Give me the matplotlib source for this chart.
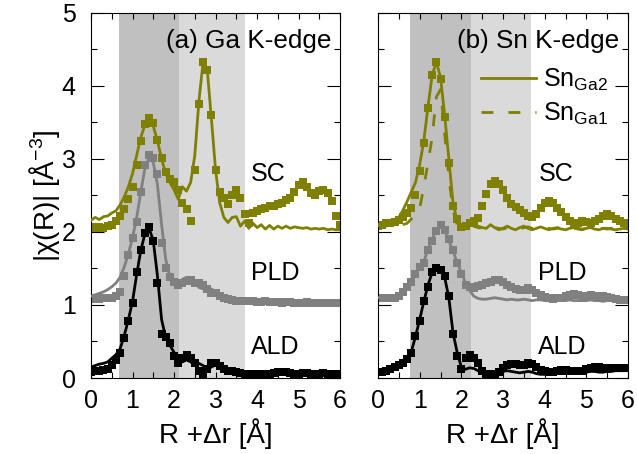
import numpy as np
import matplotlib
matplotlib.use("Agg")
import matplotlib.pyplot as plt

plt.rcParams['font.family'] = ['Liberation Sans', 'DejaVu Sans']
plt.rcParams['mathtext.fontset'] = 'custom'
plt.rcParams['mathtext.rm'] = 'Liberation Sans'
plt.rcParams['mathtext.it'] = 'Liberation Sans:italic'

# R grid of the transforms (Angstrom)
r = np.round(np.arange(0, 6.05, 0.1), 2)

# (a) Ga K-edge: squares = data, lines = model; SC offset +2, PLD +1, ALD +0
ga_sc_exp = [2.07, 2.06, 2.07, 2.05, 2.08, 2.10, 2.15, 2.22, 2.32, 2.45,
             2.62, 2.92, 3.25, 3.48, 3.56, 3.49, 3.26, 3.02, 2.82, 2.72,
             2.68, 2.57, 2.40, 2.32, 2.15, 2.85, 3.75, 4.33, 4.22, 3.60,
             2.85, 2.55, 2.47, 2.38, 2.50, 2.57, 2.47, 2.25, 2.12, 2.26,
             2.29, 2.31, 2.33, 2.35, 2.36, 2.38, 2.40, 2.44, 2.47, 2.55,
             2.64, 2.68, 2.62, 2.53, 2.50, 2.56, 2.58, 2.54, 2.42, 2.22,
             2.10]
ga_sc_fit = [2.16, 2.20, 2.17, 2.21, 2.22, 2.26, 2.29, 2.37, 2.48, 2.62,
             2.80, 3.05, 3.30, 3.47, 3.52, 3.45, 3.25, 3.00, 2.80, 2.68,
             2.58, 2.45, 2.62, 2.56, 2.68, 3.05, 3.80, 4.33, 4.22, 3.55,
             2.85, 2.40, 2.20, 2.13, 2.20, 2.21, 2.08, 2.15, 2.05, 2.12,
             2.06, 2.10, 2.04, 2.09, 2.04, 2.08, 2.05, 2.08, 2.05, 2.07,
             2.06, 2.05, 2.06, 2.04, 2.05, 2.04, 2.05, 2.03, 2.04, 2.03,
             2.03]
ga_pld_exp = [1.08, 1.09, 1.08, 1.09, 1.10, 1.10, 1.12, 1.18, 1.40, 1.68,
              1.92, 2.14, 2.55, 2.92, 3.05, 3.02, 2.80, 1.85, 1.50, 1.38,
              1.32, 1.28, 1.30, 1.33, 1.34, 1.30, 1.30, 1.27, 1.22, 1.17,
              1.16, 1.13, 1.10, 1.08, 1.07, 1.06, 1.06, 1.05, 1.05, 1.05,
              1.04, 1.04, 1.05, 1.04, 1.04, 1.04, 1.03, 1.04, 1.04, 1.03,
              1.03, 1.03, 1.04, 1.03, 1.03, 1.03, 1.03, 1.03, 1.03, 1.03,
              1.03]
ga_pld_fit = [1.12, 1.14, 1.16, 1.18, 1.21, 1.25, 1.30, 1.38, 1.52, 1.70,
              1.92, 2.20, 2.55, 2.88, 3.02, 2.95, 2.65, 2.10, 1.62, 1.40,
              1.34, 1.32, 1.35, 1.38, 1.36, 1.30, 1.24, 1.22, 1.20, 1.22,
              1.18, 1.12, 1.08, 1.06, 1.05, 1.05, 1.04, 1.05, 1.04, 1.04,
              1.03, 1.04, 1.03, 1.04, 1.03, 1.03, 1.04, 1.03, 1.03, 1.03,
              1.02, 1.03, 1.02, 1.03, 1.02, 1.02, 1.03, 1.02, 1.02, 1.02,
              1.02]
ga_ald_exp = [0.08, 0.09, 0.10, 0.11, 0.13, 0.18, 0.24, 0.34, 0.55, 0.78,
              1.03, 1.45, 1.75, 1.98, 2.07, 1.88, 1.30, 0.60, 0.56, 0.48,
              0.30, 0.20, 0.27, 0.31, 0.28, 0.20, 0.10, 0.03, 0.12, 0.20,
              0.20, 0.16, 0.12, 0.10, 0.09, 0.08, 0.07, 0.06, 0.06, 0.05,
              0.05, 0.05, 0.06, 0.06, 0.07, 0.08, 0.08, 0.08, 0.07, 0.06,
              0.06, 0.07, 0.07, 0.06, 0.06, 0.06, 0.07, 0.06, 0.06, 0.06,
              0.06]
ga_ald_fit = [0.15, 0.17, 0.19, 0.20, 0.22, 0.27, 0.32, 0.40, 0.58, 0.80,
              1.05, 1.42, 1.75, 1.98, 2.05, 1.88, 1.40, 0.80, 0.55, 0.45,
              0.35, 0.27, 0.22, 0.25, 0.22, 0.18, 0.20, 0.17, 0.12, 0.15,
              0.18, 0.14, 0.10, 0.08, 0.07, 0.06, 0.06, 0.05, 0.05, 0.05,
              0.05, 0.05, 0.05, 0.06, 0.06, 0.06, 0.07, 0.06, 0.06, 0.05,
              0.05, 0.05, 0.06, 0.05, 0.05, 0.05, 0.05, 0.05, 0.05, 0.05,
              0.05]

# (b) Sn K-edge
sn_sc_exp = [2.08, 2.10, 2.12, 2.12, 2.14, 2.17, 2.20, 2.26, 2.33, 2.50,
             2.84, 3.22, 3.70, 4.15, 4.33, 4.10, 3.58, 2.95, 2.35, 2.18,
             2.07, 2.08, 2.12, 2.15, 2.19, 2.35, 2.52, 2.66, 2.70, 2.66,
             2.58, 2.47, 2.38, 2.34, 2.30, 2.26, 2.22, 2.20, 2.25, 2.33,
             2.40, 2.43, 2.40, 2.33, 2.28, 2.20, 2.15, 2.13, 2.13, 2.15,
             2.14, 2.13, 2.15, 2.18, 2.22, 2.25, 2.22, 2.18, 2.15, 2.12,
             2.10]
sn_sc_ga2 = [2.10, 2.12, 2.09, 2.14, 2.16, 2.20, 2.30, 2.42, 2.55, 2.68,
             2.92, 3.25, 3.72, 4.15, 4.33, 4.12, 3.60, 3.00, 2.40, 2.15,
             2.06, 2.10, 2.12, 2.10, 2.08, 2.06, 2.05, 2.10, 2.06, 2.03,
             2.05, 2.08, 2.05, 2.03, 2.06, 2.08, 2.05, 2.03, 2.05, 2.07,
             2.05, 2.03, 2.05, 2.06, 2.04, 2.03, 2.05, 2.06, 2.04, 2.03,
             2.05, 2.06, 2.04, 2.03, 2.05, 2.05, 2.04, 2.03, 2.04, 2.05,
             2.04]
sn_sc_ga1 = [2.08, 2.10, 2.08, 2.10, 2.08, 2.06, 2.10, 2.12, 2.18, 2.22,
             2.32, 2.62, 2.95, 3.30, 3.85, 3.95, 3.35, 2.75, 2.30, 2.10,
             2.05, 2.08, 2.10, 2.08, 2.06, 2.05, 2.07, 2.08, 2.06, 2.05,
             2.04, 2.06, 2.07, 2.05, 2.04, 2.06, 2.07, 2.05, 2.04, 2.05,
             2.06, 2.05, 2.04, 2.05, 2.06, 2.05, 2.04, 2.05, 2.05, 2.04,
             2.05, 2.05, 2.04, 2.05, 2.05, 2.04, 2.05, 2.05, 2.04, 2.04,
             2.04]
sn_pld_exp = [1.09, 1.10, 1.09, 1.10, 1.10, 1.13, 1.18, 1.24, 1.32, 1.43,
              1.52, 1.58, 1.76, 1.88, 2.02, 2.10, 2.03, 1.90, 1.76, 1.58,
              1.42, 1.27, 1.24, 1.23, 1.26, 1.28, 1.30, 1.32, 1.34, 1.34,
              1.31, 1.27, 1.24, 1.22, 1.20, 1.21, 1.23, 1.21, 1.17, 1.14,
              1.11, 1.09, 1.08, 1.09, 1.10, 1.12, 1.14, 1.15, 1.14, 1.13,
              1.13, 1.14, 1.13, 1.12, 1.12, 1.11, 1.10, 1.08, 1.07, 1.07,
              1.07]
sn_pld_fit = [1.10, 1.11, 1.10, 1.11, 1.12, 1.14, 1.18, 1.24, 1.32, 1.43,
              1.52, 1.60, 1.76, 1.90, 2.03, 2.08, 2.02, 1.88, 1.74, 1.58,
              1.45, 1.30, 1.20, 1.12, 1.09, 1.08, 1.08, 1.09, 1.10, 1.09,
              1.08, 1.07, 1.08, 1.07, 1.07, 1.08, 1.07, 1.06, 1.07, 1.07,
              1.06, 1.07, 1.06, 1.06, 1.07, 1.06, 1.07, 1.06, 1.06, 1.06,
              1.06, 1.07, 1.06, 1.06, 1.05, 1.06, 1.06, 1.05, 1.06, 1.05,
              1.05]
sn_ald_exp = [0.08, 0.08, 0.10, 0.12, 0.15, 0.18, 0.20, 0.26, 0.34, 0.57,
              0.78, 1.05, 1.25, 1.45, 1.50, 1.48, 1.40, 1.12, 0.60, 0.30,
              0.12, 0.28, 0.32, 0.28, 0.20, 0.10, 0.06, 0.05, 0.05, 0.08,
              0.14, 0.18, 0.19, 0.19, 0.18, 0.18, 0.20, 0.19, 0.15, 0.11,
              0.09, 0.08, 0.08, 0.09, 0.11, 0.11, 0.10, 0.09, 0.09, 0.10,
              0.12, 0.14, 0.15, 0.15, 0.14, 0.13, 0.14, 0.14, 0.14, 0.14,
              0.14]
sn_ald_fit = [0.06, 0.07, 0.09, 0.11, 0.14, 0.17, 0.21, 0.27, 0.36, 0.57,
              0.80, 1.05, 1.27, 1.45, 1.50, 1.48, 1.38, 1.10, 0.62, 0.35,
              0.15, 0.12, 0.14, 0.13, 0.10, 0.07, 0.05, 0.05, 0.06, 0.07,
              0.09, 0.10, 0.09, 0.08, 0.07, 0.08, 0.09, 0.08, 0.06, 0.05,
              0.05, 0.06, 0.07, 0.07, 0.06, 0.06, 0.07, 0.08, 0.07, 0.07,
              0.08, 0.09, 0.09, 0.08, 0.08, 0.09, 0.09, 0.10, 0.10, 0.10,
              0.10]

# shaded fit windows: (dark start, dark end, light end)
ga_windows = [0.68, 2.13, 3.72]
sn_windows = [0.77, 2.22, 3.66]

sample_names = ['SC', 'PLD', 'ALD']
sample_label_y = [2.80, 1.44, 0.42]
colors = ['#808000', '#808080', '#000000']

fig = plt.figure(figsize=(6.37, 4.54), dpi=100)
ax1 = fig.add_axes([0.1429, 0.1674, 0.391, 0.804])
ax2 = fig.add_axes([0.5934, 0.1674, 0.3925, 0.804])


def draw_panel(ax, exps, fits, win, title):
    ax.axvspan(win[0], win[1], color='#c0c0c0', lw=0, zorder=0)
    ax.axvspan(win[1], win[2], color='#dadada', lw=0, zorder=0)
    for exp, fit, c in zip(exps, fits, colors):
        ax.plot(r, exp, 's', color=c, ms=5.6, mew=0, zorder=2)
        ax.plot(r, fit, '-', color=c, lw=2, zorder=3)
    for name, y in zip(sample_names, sample_label_y):
        ax.text(3.85, y, name, fontsize=18, va='center', ha='left')
    ax.text(0.965, 0.955, title, transform=ax.transAxes, fontsize=18.8,
            ha='right', va='top')
    ax.set_xlim(0, 6)
    ax.set_ylim(0, 5)
    ax.set_xticks(np.arange(0, 7, 1))
    ax.set_xticks(np.arange(0, 6.5, 0.5), minor=True)
    ax.set_yticks(np.arange(0, 6, 1))
    ax.set_yticks(np.arange(0.5, 5, 1), minor=True)
    ax.tick_params(axis='both', which='both', direction='in',
                   top=True, right=True, width=0.8, labelsize=18)
    ax.tick_params(axis='x', which='both', length=4.5, pad=8)
    ax.tick_params(axis='y', which='major', length=9.4, pad=11)
    ax.tick_params(axis='y', which='minor', length=4.5)
    for s in ax.spines.values():
        s.set_linewidth(0.8)
    ax.set_xlabel('R +Δr [Å]', fontsize=20, labelpad=4)


draw_panel(ax1, [ga_sc_exp, ga_pld_exp, ga_ald_exp],
           [ga_sc_fit, ga_pld_fit, ga_ald_fit], ga_windows, '(a) Ga K-edge')
draw_panel(ax2, [sn_sc_exp, sn_pld_exp, sn_ald_exp],
           [sn_sc_ga2, sn_pld_fit, sn_ald_fit], sn_windows, '(b) Sn K-edge')

ga2_line = ax2.lines[1]
ga1_line, = ax2.plot(r, sn_sc_ga1, color=colors[0], lw=2,
                     linestyle=(0, (4.3, 5.4)), zorder=3)
ax2.legend([ga2_line, ga1_line],
           [r'Sn$_{\mathregular{Ga2}}$', r'Sn$_{\mathregular{Ga1}}$'],
           loc='upper left', bbox_to_anchor=(0.41, 0.853), frameon=False,
           fontsize=18, handlelength=2.2, handletextpad=0.3,
           labelspacing=0.32, borderpad=0, borderaxespad=0)

ax2.tick_params(axis='y', which='both', labelleft=False)
ax1.set_ylabel('|χ(R)| [Å$^{\\mathregular{-3}}$]', fontsize=20, labelpad=0)

plt.savefig('out.png', dpi=100)
